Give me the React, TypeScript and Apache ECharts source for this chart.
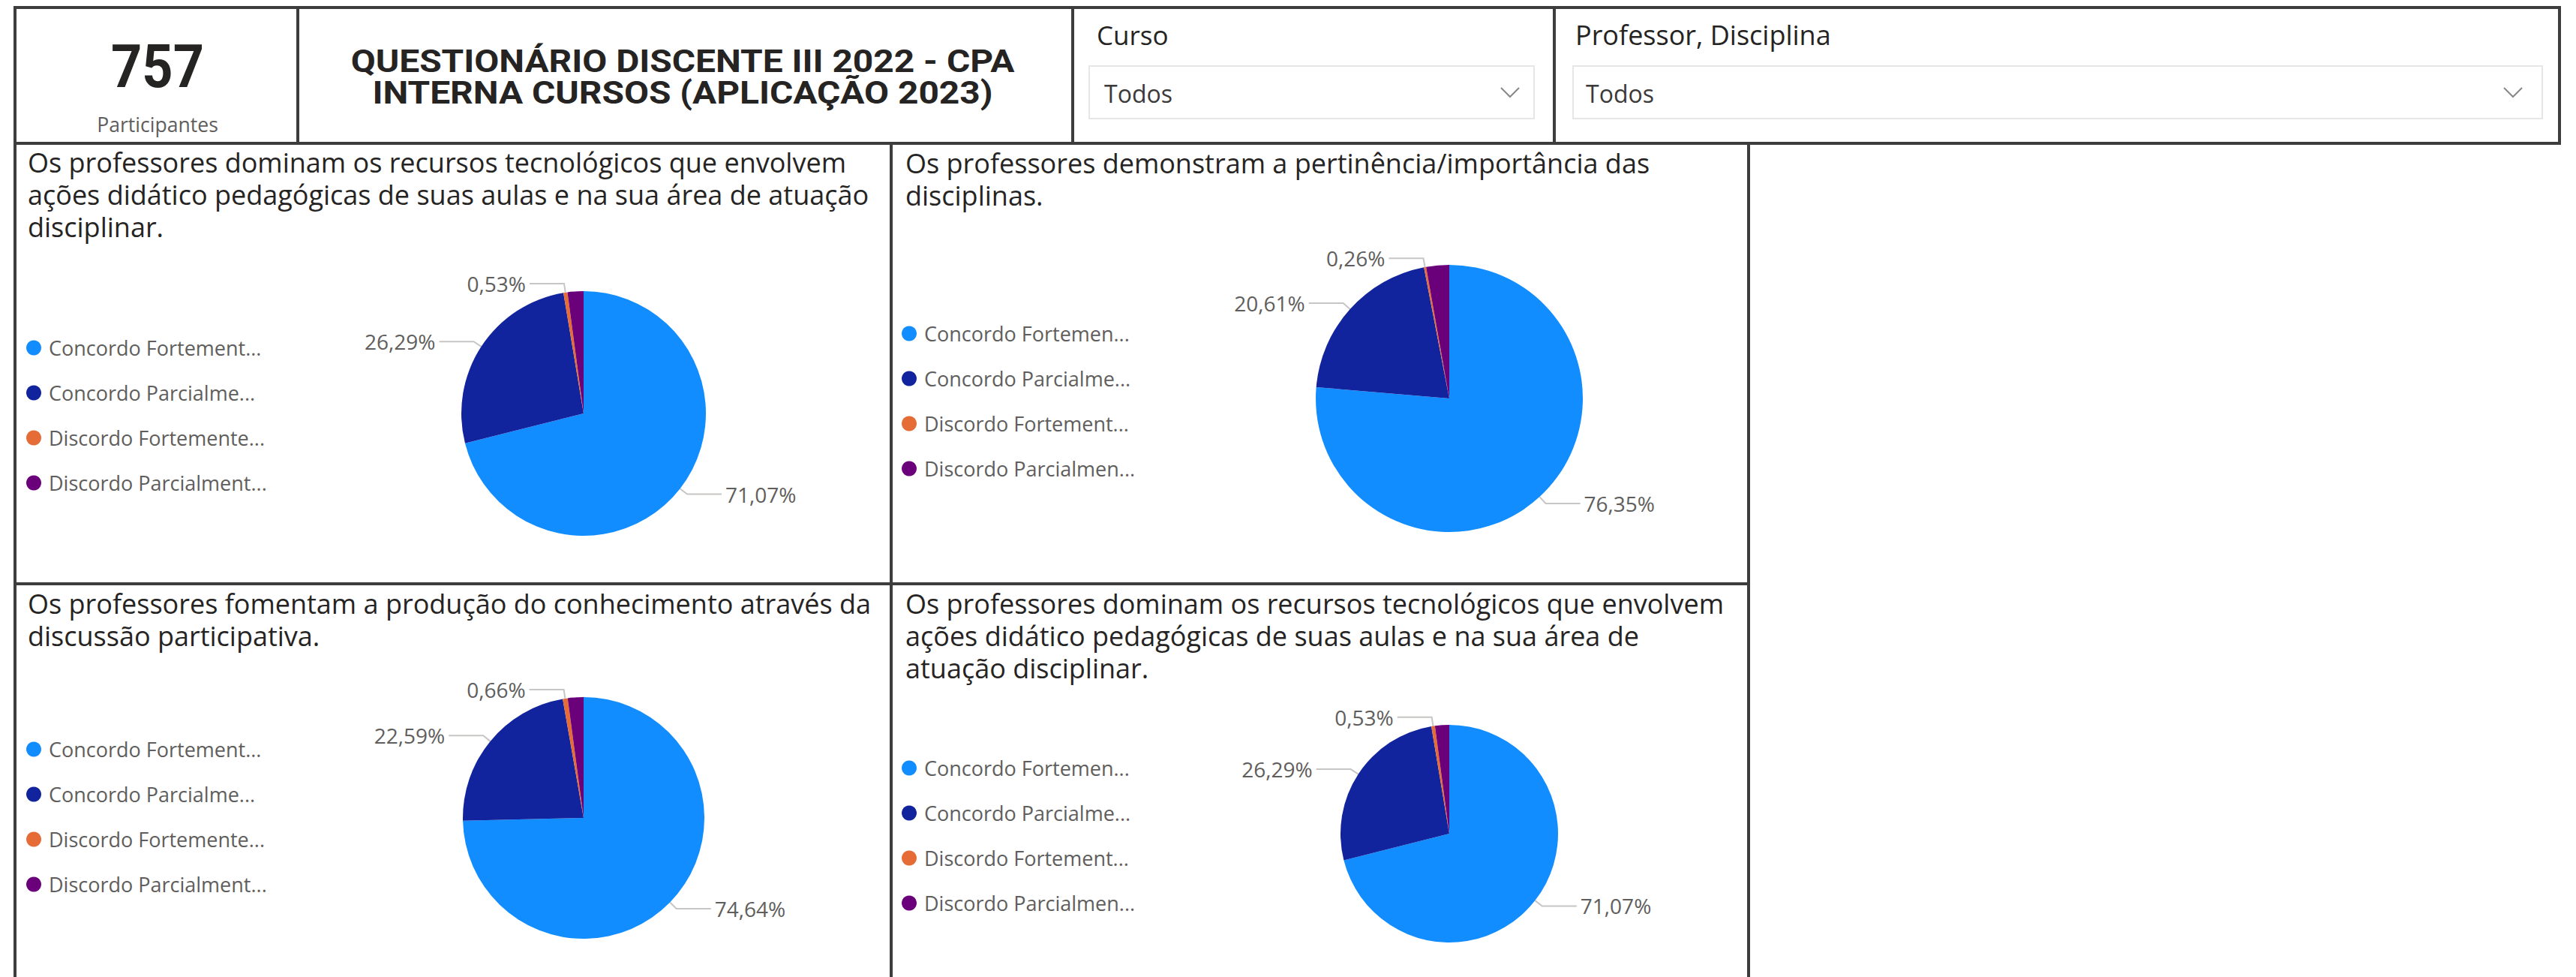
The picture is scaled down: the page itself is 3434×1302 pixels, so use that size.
import React, { useEffect, useRef } from "react";
import * as echarts from "echarts";

const categories = ["Concordo Fortemente", "Concordo Parcialmente", "Discordo Fortemente", "Discordo Parcialmente"];
const legendLabelsWide = ["Concordo Fortement...", "Concordo Parcialme...", "Discordo Fortemente...", "Discordo Parcialment..."];
const legendLabelsNarrow = ["Concordo Fortemen...", "Concordo Parcialme...", "Discordo Fortement...", "Discordo Parcialmen..."];
const sliceColors = ["#118DFF", "#12239E", "#E66C37", "#6B007B"];
const labelShown = [true, true, true, false];

const q1Values = [71.07, 26.29, 0.53, 2.11];
const q2Values = [76.35, 20.61, 0.26, 2.78];
const q3Values = [74.64, 22.59, 0.66, 2.11];
const q4Values = [71.07, 26.29, 0.53, 2.11];

const q1Title = "Os professores dominam os recursos tecnológicos que envolvem\nações didático pedagógicas de suas aulas e na sua área de atuação\ndisciplinar.";
const q2Title = "Os professores demonstram a pertinência/importância das\ndisciplinas.";
const q3Title = "Os professores fomentam a produção do conhecimento através da\ndiscussão participativa.";
const q4Title = "Os professores dominam os recursos tecnológicos que envolvem\nações didático pedagógicas de suas aulas e na sua área de\natuação disciplinar.";

const participants = "757";
const participantsLabel = "Participantes";
const headerTitle = "QUESTIONÁRIO DISCENTE III 2022 - CPA\nINTERNA CURSOS (APLICAÇÃO 2023)";
const slicer1Label = "Curso";
const slicer2Label = "Professor, Disciplina";
const slicerValue = "Todos";

const FONT = "'Open Sans', 'Noto Sans', sans-serif";
const BORDER = "#3D3D3D";

const panels = [
  { values: q1Values, title: q1Title, tx: 37, ty: 195, legend: legendLabelsWide, lx: 35, ly: 450, center: [778, 551], r: 163 },
  { values: q2Values, title: q2Title, tx: 1207, ty: 196, legend: legendLabelsNarrow, lx: 1202, ly: 431, center: [1932, 531], r: 178 },
  { values: q3Values, title: q3Title, tx: 37, ty: 783, legend: legendLabelsWide, lx: 35, ly: 985, center: [778, 1090], r: 161 },
  { values: q4Values, title: q4Title, tx: 1207, ty: 783, legend: legendLabelsNarrow, lx: 1202, ly: 1010, center: [1932, 1111], r: 145 },
];

function fmtPct(v: number) {
  return v.toFixed(2).replace(".", ",") + "%";
}

export default function App() {
  const ref = useRef<HTMLDivElement>(null);
  useEffect(() => {
    if (!ref.current) return;
    const chart = echarts.init(ref.current, null, { renderer: "svg" });

    const line = (x1: number, y1: number, x2: number, y2: number) => ({
      type: "line",
      shape: { x1, y1, x2, y2 },
      style: { stroke: BORDER, lineWidth: 4 },
      z: 10,
    });

    const graphic: any[] = [
      { type: "rect", shape: { x: 20, y: 10, width: 3392, height: 181 }, style: { fill: "none", stroke: BORDER, lineWidth: 4 }, z: 10 },
      line(397, 10, 397, 191),
      line(1430, 10, 1430, 191),
      line(2072, 10, 2072, 191),
      line(20, 191, 20, 1302),
      line(1188, 191, 1188, 1302),
      line(2331, 191, 2331, 1302),
      line(20, 778, 2331, 778),
      {
        type: "text", x: 210, y: 89, scaleX: 0.9,
        style: { text: participants, fill: "#252423", font: "bold 80px Roboto, sans-serif", textAlign: "center", textVerticalAlign: "middle" },
      },
      {
        type: "text", x: 210, y: 165, scaleX: 0.95,
        style: { text: participantsLabel, fill: "#605E5C", font: `28px ${FONT}`, textAlign: "center", textVerticalAlign: "middle" },
      },
      {
        type: "text", x: 910, y: 82, scaleX: 1.14,
        style: { text: headerTitle.split("\n")[0], fill: "#252423", font: "bold 42px Roboto, sans-serif", textAlign: "center", textVerticalAlign: "middle" },
      },
      {
        type: "text", x: 910, y: 124, scaleX: 1.14,
        style: { text: headerTitle.split("\n")[1], fill: "#252423", font: "bold 42px Roboto, sans-serif", textAlign: "center", textVerticalAlign: "middle" },
      },
      {
        type: "text", x: 1462, y: 46,
        style: { text: slicer1Label, fill: "#252423", font: `35px ${FONT}`, textVerticalAlign: "middle" },
      },
      { type: "rect", shape: { x: 1452, y: 88, width: 593, height: 70 }, style: { fill: "#fff", stroke: "#E6E6E6", lineWidth: 2 } },
      {
        type: "text", x: 1472, y: 124,
        style: { text: slicerValue, fill: "#3B3A39", font: `32px ${FONT}`, textVerticalAlign: "middle" },
      },
      { type: "polyline", shape: { points: [[2001, 117], [2013, 129], [2025, 117]] }, style: { stroke: "#8A8886", lineWidth: 2, fill: "none" } },
      {
        type: "text", x: 2100, y: 46,
        style: { text: slicer2Label, fill: "#252423", font: `36px ${FONT}`, textVerticalAlign: "middle" },
      },
      { type: "rect", shape: { x: 2097, y: 88, width: 1292, height: 70 }, style: { fill: "#fff", stroke: "#E6E6E6", lineWidth: 2 } },
      {
        type: "text", x: 2114, y: 124,
        style: { text: slicerValue, fill: "#3B3A39", font: `32px ${FONT}`, textVerticalAlign: "middle" },
      },
      { type: "polyline", shape: { points: [[3338, 117], [3350, 129], [3362, 117]] }, style: { stroke: "#8A8886", lineWidth: 2, fill: "none" } },
    ];

    const option: any = {
      animation: false,
      backgroundColor: "#ffffff",
      title: panels.map((p) => ({
        text: p.title,
        left: p.tx,
        top: p.ty,
        padding: 0,
        textStyle: { fontFamily: FONT, fontSize: 36, fontWeight: "normal", color: "#252423", lineHeight: 43 },
      })),
      legend: panels.map((p) => ({
        data: categories,
        orient: "vertical",
        left: p.lx,
        top: p.ly,
        padding: 0,
        icon: "circle",
        itemWidth: 30,
        itemHeight: 20,
        itemGap: 33,
        selectedMode: false,
        formatter: (name: string) => p.legend[categories.indexOf(name)],
        textStyle: { fontFamily: FONT, fontSize: 27, color: "#605E5C" },
      })),
      graphic,
      series: panels.map((p) => ({
        type: "pie",
        center: p.center,
        radius: p.r,
        startAngle: 90,
        clockwise: true,
        avoidLabelOverlap: false,
        itemStyle: { borderWidth: 0 },
        label: {
          show: true,
          position: "outside",
          fontFamily: FONT,
          fontSize: 28,
          color: "#605E5C",
          formatter: (d: any) => fmtPct(d.value),
        },
        labelLine: { show: true, length: 12, length2: 46, lineStyle: { color: "#C8C6C4", width: 2 } },
        emphasis: { disabled: true },
        data: categories.map((c, i) => ({
          name: c,
          value: p.values[i],
          itemStyle: { color: sliceColors[i] },
          label: { show: labelShown[i] },
          labelLine: { show: labelShown[i] },
        })),
      })),
    };
    chart.setOption(option);
    return () => chart.dispose();
  }, []);
  return (
    <div
      ref={ref}
      style={{ position: "fixed", left: 0, top: 0, width: 3434, height: 1302, background: "#fff" }}
    />
  );
}
